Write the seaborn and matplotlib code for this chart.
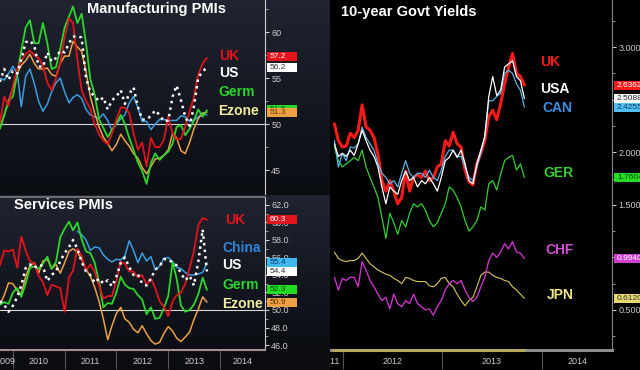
import numpy as np
import pandas as pd
import matplotlib
matplotlib.use("Agg")
import matplotlib.pyplot as plt
from matplotlib.patches import Rectangle
from matplotlib.transforms import blended_transform_factory
import seaborn as sns

# ---------------- data ----------------
pmi_dates = pd.date_range("2009-10-01", periods=49, freq="MS")

mfg_uk = [50.1, 53.0, 52.0, 54.2, 56.0, 56.9, 57.6, 58.0, 57.5, 57.2,
          56.4, 54.5, 53.7, 55.0, 56.6, 59.5, 61.5, 61.0, 57.0, 53.7,
          52.5, 51.7, 50.0, 48.9, 48.2, 47.8, 49.0, 50.5, 51.8, 51.8,
          51.2, 49.0, 47.2, 48.0, 45.4, 48.5, 47.5, 47.5, 48.3, 50.8,
          49.0, 48.3, 48.4, 49.7, 51.4, 52.9, 55.4, 56.6, 57.2]
mfg_us = [54.6, 56.0, 54.8, 55.8, 55.5, 57.0, 58.9, 59.1, 58.5, 56.3,
          56.2, 57.8, 56.8, 57.2, 58.0, 57.8, 58.8, 59.5, 59.6, 59.4,
          55.0, 53.5, 53.0, 52.5, 52.9, 51.6, 52.6, 53.0, 53.7, 52.2,
          53.3, 54.0, 51.9, 50.5, 50.5, 50.9, 51.5, 51.0, 50.3, 50.4,
          53.0, 54.2, 52.6, 50.8, 49.8, 51.9, 55.1, 55.7, 56.2]
mfg_germ = [49.5, 51.0, 52.5, 53.0, 55.5, 58.0, 60.5, 61.3, 58.8, 58.8,
            61.0, 58.8, 56.0, 56.2, 58.2, 60.5, 61.7, 62.8, 61.0, 62.0,
            58.8, 54.9, 53.2, 50.5, 49.6, 48.6, 49.4, 50.1, 51.0, 50.0,
            48.5, 47.2, 45.8, 44.9, 43.5, 45.8, 46.8, 46.1, 46.6, 47.0,
            47.9, 49.7, 49.9, 48.8, 49.5, 50.4, 51.6, 50.8, 51.5]
mfg_ezone = [49.5, 51.0, 52.5, 54.0, 55.5, 56.4, 56.9, 57.6, 56.6, 56.0,
             56.0, 56.1, 55.4, 55.2, 56.6, 57.4, 57.4, 59.0, 58.4, 57.9,
             55.7, 53.0, 51.2, 49.7, 48.6, 47.9, 47.1, 47.8, 48.9, 48.2,
             47.6, 46.8, 46.3, 45.3, 44.6, 45.4, 46.2, 46.3, 46.6, 47.2,
             49.0, 48.5, 47.1, 46.8, 48.0, 49.5, 50.6, 51.2, 51.3]
mfg_china = [55.0, 54.8, 55.5, 56.3, 55.5, 51.9, 55.2, 56.0, 54.4, 52.5,
             51.4, 52.2, 53.5, 54.5, 55.0, 53.5, 52.3, 52.9, 53.2, 52.8,
             51.6, 51.0, 50.8, 50.6, 51.1, 50.4, 49.3, 50.0, 50.6, 51.0,
             52.3, 53.0, 51.8, 50.3, 50.3, 49.4, 50.0, 50.5, 50.5, 50.4,
             50.4, 50.4, 50.9, 50.8, 50.3, 50.4, 50.8, 51.2, 51.0]

svc_uk = [55.1, 56.8, 56.7, 56.9, 54.8, 58.4, 56.8, 55.6, 55.3, 53.9,
          53.2, 51.7, 52.9, 52.7, 52.5, 49.8, 53.7, 54.5, 57.0, 56.2,
          54.5, 55.2, 54.4, 52.8, 51.3, 51.6, 51.6, 53.3, 55.5, 55.3,
          54.4, 54.4, 53.7, 54.0, 52.9, 53.6, 52.5, 51.0, 50.4, 49.3,
          51.0, 51.7, 52.0, 53.0, 54.8, 56.7, 59.7, 60.5, 60.3]
svc_china = [np.nan] * 18 + [
    59.0, 58.6, 58.0, 56.8, 57.2, 57.1, 56.3, 55.8, 55.5, 55.8,
    55.7, 56.2, 57.9, 56.8, 55.4, 56.5, 55.6, 56.1, 54.6, 55.0,
    55.9, 56.0, 55.5, 54.9, 54.7, 54.3, 54.0, 54.0, 54.1, 54.3, 55.4]
svc_us = [51.0, 50.6, 49.8, 50.5, 51.5, 52.8, 54.8, 55.2, 54.8, 55.2,
          55.0, 53.3, 54.0, 54.4, 55.6, 56.5, 57.2, 58.0, 57.0, 55.5,
          54.4, 54.0, 53.1, 53.6, 53.0, 53.4, 52.7, 53.8, 55.4, 56.0,
          54.9, 54.0, 54.1, 53.0, 52.8, 53.6, 54.6, 55.0, 55.8, 55.8,
          55.4, 55.1, 54.2, 53.4, 53.9, 52.8, 55.5, 59.2, 54.4]
svc_germ = [50.6, 50.9, 50.7, 52.0, 52.5, 51.5, 53.0, 54.8, 55.0, 54.7,
            55.3, 56.1, 54.7, 55.5, 58.3, 59.3, 60.1, 59.1, 60.0, 58.1,
            56.7, 56.5, 55.4, 53.2, 50.3, 50.8, 50.7, 52.0, 53.8, 52.9,
            52.5, 52.4, 51.7, 51.2, 49.5, 50.3, 49.0, 49.1, 50.2, 51.6,
            55.5, 53.6, 50.5, 49.8, 50.0, 50.6, 51.8, 53.7, 52.3]
svc_ezone = [50.6, 51.7, 53.1, 53.0, 52.2, 51.8, 53.8, 55.1, 55.4, 54.2,
             55.6, 55.8, 54.7, 55.2, 54.2, 55.4, 56.7, 57.0, 56.6, 55.8,
             54.6, 53.9, 52.6, 51.0, 49.0, 46.6, 48.2, 49.6, 50.3, 49.0,
             48.6, 47.8, 47.4, 48.2, 47.3, 46.5, 46.1, 46.3, 47.3, 48.1,
             47.6, 46.8, 46.4, 46.9, 47.5, 48.9, 50.1, 51.5, 50.9]

yld_dates = pd.date_range("2011-12-01", "2013-10-30", periods=49)

yld_uk = [2.27, 2.11, 2.05, 2.06, 2.18, 2.14, 2.21, 2.45, 2.24, 2.21,
          2.14, 1.98, 1.73, 1.63, 1.73, 1.63, 1.51, 1.57, 1.82, 1.63,
          1.76, 1.79, 1.76, 1.82, 1.73, 1.76, 1.86, 1.89, 2.11, 2.06,
          2.19, 2.08, 2.05, 1.83, 1.72, 1.69, 1.89, 1.99, 2.11, 2.34,
          2.40, 2.31, 2.46, 2.65, 2.81, 2.94, 2.75, 2.72, 2.64]
yld_usa = [2.08, 1.96, 1.99, 1.96, 2.02, 1.97, 2.08, 2.21, 2.11, 2.02,
           1.96, 1.86, 1.67, 1.51, 1.67, 1.63, 1.60, 1.73, 1.82, 1.73,
           1.76, 1.67, 1.73, 1.70, 1.76, 1.70, 1.63, 1.76, 1.92, 1.95,
           2.02, 1.95, 2.02, 1.89, 1.73, 1.70, 1.89, 2.02, 2.15, 2.53,
           2.72, 2.54, 2.59, 2.81, 2.84, 2.87, 2.72, 2.68, 2.51]
yld_can = [2.11, 1.86, 1.99, 1.92, 2.05, 2.04, 2.08, 2.24, 2.14, 2.08,
           2.02, 1.89, 1.80, 1.76, 1.70, 1.73, 1.67, 1.80, 1.92, 1.80,
           1.76, 1.80, 1.80, 1.76, 1.83, 1.76, 1.73, 1.83, 1.96, 2.02,
           2.02, 1.96, 1.96, 1.86, 1.76, 1.73, 1.86, 1.99, 2.15, 2.49,
           2.49, 2.53, 2.56, 2.75, 2.78, 2.75, 2.65, 2.59, 2.43]
yld_ger = [2.05, 1.92, 1.86, 1.89, 1.92, 1.95, 1.92, 2.02, 1.86, 1.76,
           1.67, 1.57, 1.38, 1.18, 1.42, 1.33, 1.22, 1.35, 1.29, 1.42,
           1.51, 1.48, 1.51, 1.45, 1.35, 1.29, 1.33, 1.42, 1.51, 1.67,
           1.64, 1.57, 1.48, 1.35, 1.25, 1.29, 1.35, 1.48, 1.45, 1.70,
           1.73, 1.64, 1.79, 1.92, 1.95, 1.97, 1.83, 1.89, 1.76]
yld_chf = [0.81, 0.69, 0.80, 0.78, 0.81, 0.81, 0.72, 0.96, 0.88, 0.78,
           0.72, 0.65, 0.59, 0.62, 0.51, 0.65, 0.56, 0.53, 0.59, 0.56,
           0.65, 0.56, 0.53, 0.50, 0.51, 0.45, 0.53, 0.59, 0.69, 0.75,
           0.78, 0.75, 0.78, 0.69, 0.62, 0.58, 0.62, 0.72, 0.81, 0.97,
           1.04, 1.00, 1.05, 1.13, 1.08, 1.15, 1.05, 1.04, 0.99]
yld_jpn = [1.05, 0.99, 0.97, 0.96, 0.97, 0.97, 0.99, 1.04, 0.99, 0.94,
           0.91, 0.88, 0.86, 0.84, 0.83, 0.80, 0.78, 0.75, 0.81, 0.80,
           0.78, 0.77, 0.77, 0.77, 0.73, 0.72, 0.75, 0.80, 0.81, 0.75,
           0.72, 0.65, 0.59, 0.54, 0.59, 0.62, 0.72, 0.83, 0.86, 0.86,
           0.83, 0.81, 0.80, 0.78, 0.77, 0.72, 0.69, 0.65, 0.61]

# last-value tags shown on the axes
mfg_tag_vals = [57.4, 56.2, 51.6, 51.3]
mfg_tag_text = ["57.2", "56.2", "51.5", "51.3"]
svc_tag_vals = [60.3, 55.4, 54.4, 52.3, 50.9]
svc_tag_text = ["60.3", "55.4", "54.4", "52.3", "50.9"]
yld_tag_vals = [2.6362, 2.5088, 2.4255, 1.7604, 0.9940, 0.6120]
yld_tag_text = ["2.6362", "2.5088", "2.4255", "1.7604", "0.9940", "0.6120"]

# ---------------- style ----------------
sns.set_style("ticks")
plt.rcParams["font.family"] = ["Liberation Sans", "DejaVu Sans"]

RED, WHITE, GREEN, ORANGE, BLUE = "#e3131b", "#ffffff", "#2bd62b", "#eea044", "#3a9ee0"
PALE = "#f2eaa0"
W, H = 640, 370


def box(x0, y0, x1, y1):
    # pixel box (top-left origin) -> figure fraction
    return [x0 / W, 1 - y1 / H, (x1 - x0) / W, (y1 - y0) / H]


def yr(f):
    y = int(f)
    return pd.Timestamp(year=y, month=1, day=1) + pd.Timedelta(days=(f - y) * 365.25)


def tag(ax, val, txt, fc, tc, ax_w, ax_h, z, w=30, h=9):
    # later tags sit on top of earlier ones, text included
    lo, hi = ax.get_ylim()
    unit = (hi - lo) / ax_h
    tr = blended_transform_factory(ax.transAxes, ax.transData)
    x0 = 1 + 2 / ax_w
    ax.add_patch(Rectangle((x0, val - h / 2 * unit), w / ax_w, h * unit, transform=tr,
                           fc=fc, ec="none", clip_on=False, zorder=6 + 2 * z))
    ax.text(x0 + 3 / ax_w, val, txt, transform=tr, color=tc, fontsize=6,
            va="center", ha="left", clip_on=False, zorder=7 + 2 * z)


def label(x, y, s, color, size=10):
    fig.text(x / W, 1 - y / H, s, color=color, fontsize=size, fontweight="bold",
             va="center", ha="left", zorder=40)


def style_axis(ax, spine_color):
    ax.set_facecolor("none")
    for s in ["left", "top", "bottom"]:
        ax.spines[s].set_visible(False)
    ax.spines["right"].set_color(spine_color)
    ax.spines["right"].set_linewidth(0.8)
    ax.yaxis.tick_right()
    ax.tick_params(axis="y", which="major", direction="out", length=3, width=0.8,
                   color="#cccccc", labelcolor="#cccccc", labelsize=6.5, pad=1.5)
    ax.tick_params(axis="y", which="minor", direction="out", length=2, width=0.6, color="#aaaaaa")
    ax.set_xlabel("")
    ax.set_ylabel("")


def year_axis(ax, starts, centers, names):
    ax.set_xticks(starts)
    ax.set_xticklabels([""] * len(starts))
    ax.set_xticks(centers, minor=True)
    ax.set_xticklabels(names, minor=True)
    ax.tick_params(axis="x", which="major", direction="out", length=14, width=0.8, color="#555555")
    ax.tick_params(axis="x", which="minor", length=0, labelsize=6.5, labelcolor="#cccccc", pad=5)


fig = plt.figure(figsize=(6.4, 3.7), dpi=100, facecolor="black")

# dark gradient background behind the two PMI panels
rows = np.zeros((H, 1, 3))
top_c, bot_c = np.array([31, 36, 48]) / 255, np.array([11, 13, 19]) / 255
for y in range(H):
    if y < 195:
        t = y / 195
    elif y < 350:
        t = (y - 195) / 155
    else:
        t = 1.0
    rows[y, 0] = top_c * (1 - t) + bot_c * t
bg = fig.add_axes(box(0, 0, 330, 370), zorder=1)
bg.imshow(rows, aspect="auto", extent=[0, 1, 0, 1], interpolation="bilinear")
bg.axis("off")

# ---------------- Manufacturing PMIs ----------------
ax_m = fig.add_axes(box(0, 0, 265, 194), zorder=3)
ax_m.axhline(50, color="#d8d8d8", lw=0.8, zorder=1)
sns.lineplot(x=pmi_dates, y=mfg_china, ax=ax_m, color=BLUE, linewidth=1.1)
sns.lineplot(x=pmi_dates, y=mfg_ezone, ax=ax_m, color=ORANGE, linewidth=1.1)
sns.lineplot(x=pmi_dates, y=mfg_germ, ax=ax_m, color=GREEN, linewidth=1.3)
sns.lineplot(x=pmi_dates, y=mfg_uk, ax=ax_m, color=RED, linewidth=1.3)
sns.lineplot(x=pmi_dates, y=mfg_us, ax=ax_m, color=WHITE, linewidth=1.8, linestyle=":")
ax_m.set_xlim(yr(2009.75), yr(2014.87))
ax_m.set_ylim(42.4, 63.5)
style_axis(ax_m, "#cccccc")
ax_m.set_xticks([])
ax_m.set_yticks([45, 50, 55, 60])
ax_m.set_yticklabels(["45", "50", "55", "60"])
ax_m.set_yticks([47.5, 52.5, 57.5, 62.5], minor=True)
for i, (v, t, fc, tc) in enumerate(zip(mfg_tag_vals, mfg_tag_text,
                                       [RED, WHITE, GREEN, ORANGE],
                                       ["white", "#333333", "#1a5a1a", "#6a3a00"])):
    tag(ax_m, v, t, fc, tc, 265, 194, i)

# ---------------- Services PMIs ----------------
ax_s = fig.add_axes(box(0, 197, 265, 350), zorder=3)
ax_s.axhline(50, color="#d8d8d8", lw=0.8, zorder=1)
sns.lineplot(x=pmi_dates, y=svc_ezone, ax=ax_s, color=ORANGE, linewidth=1.1)
sns.lineplot(x=pmi_dates, y=svc_china, ax=ax_s, color=BLUE, linewidth=1.1)
sns.lineplot(x=pmi_dates, y=svc_germ, ax=ax_s, color=GREEN, linewidth=1.3)
sns.lineplot(x=pmi_dates, y=svc_uk, ax=ax_s, color=RED, linewidth=1.3)
sns.lineplot(x=pmi_dates, y=svc_us, ax=ax_s, color=WHITE, linewidth=1.8, linestyle=":")
ax_s.set_xlim(yr(2009.75), yr(2014.87))
ax_s.set_ylim(45.43, 62.91)
style_axis(ax_s, "#cccccc")
ax_s.spines["top"].set_visible(True)
ax_s.spines["top"].set_color("#7a7a7a")
ax_s.spines["top"].set_linewidth(1.2)
ax_s.spines["bottom"].set_visible(True)
ax_s.spines["bottom"].set_color("#a89090")
ax_s.spines["bottom"].set_linewidth(1.5)
svc_ticks = np.arange(46, 63, 2)
ax_s.set_yticks(svc_ticks)
ax_s.set_yticklabels([f"{v:.1f}" for v in svc_ticks])
ax_s.set_yticks(np.arange(47, 63, 2), minor=True)
year_axis(ax_s,
          [yr(y) for y in [2010, 2011, 2012, 2013, 2014]],
          [yr(2009.85), yr(2010.5), yr(2011.5), yr(2012.5), yr(2013.5), yr(2014.43)],
          ["2009", "2010", "2011", "2012", "2013", "2014"])
for i, (v, t, fc, tc) in enumerate(zip(svc_tag_vals, svc_tag_text,
                                       [RED, "#3fb8f0", WHITE, "#22dd22", ORANGE],
                                       ["white", "#0a3a6a", "#333333", "#0a4a0a", "#5a3000"])):
    tag(ax_s, v, t, fc, tc, 265, 153, i)

# ---------------- 10-year Govt Yields ----------------
ax_r = fig.add_axes(box(330, 0, 612, 350), zorder=0)
sns.lineplot(x=yld_dates, y=yld_jpn, ax=ax_r, color="#d6c65a", linewidth=0.8)
sns.lineplot(x=yld_dates, y=yld_chf, ax=ax_r, color="#c832c8", linewidth=1.0)
sns.lineplot(x=yld_dates, y=yld_ger, ax=ax_r, color="#30d030", linewidth=0.9)
sns.lineplot(x=yld_dates, y=yld_uk, ax=ax_r, color="#ff1a1a", linewidth=2.2)
sns.lineplot(x=yld_dates, y=yld_can, ax=ax_r, color="#5ab4e6", linewidth=0.9)
sns.lineplot(x=yld_dates, y=yld_usa, ax=ax_r, color=WHITE, linewidth=0.9)
ax_r.set_xlim(yr(2011.90), yr(2014.71))
ax_r.set_ylim(0.119, 3.448)
style_axis(ax_r, "#888888")
ax_r.set_facecolor("black")
ax_r.spines["bottom"].set_visible(True)
ax_r.spines["bottom"].set_color("#8a8a8a")
ax_r.spines["bottom"].set_linewidth(2.2)
ax_r.plot([yr(2011.90), yld_dates[-1]], [0.119, 0.119], color="#b5a860", lw=2.2,
          clip_on=False, zorder=4)
r_ticks = np.arange(0.5, 3.01, 0.5)
ax_r.set_yticks(r_ticks)
ax_r.set_yticklabels([f"{v:.4f}" for v in r_ticks])
ax_r.set_yticks(np.arange(0.25, 3.3, 0.5), minor=True)
year_axis(ax_r,
          [yr(y) for y in [2012, 2013, 2014]],
          [yr(2011.87), yr(2012.5), yr(2013.5), yr(2014.36)],
          ["2011", "2012", "2013", "2014"])
for i, (v, t, fc, tc) in enumerate(zip(yld_tag_vals, yld_tag_text,
                                       ["#ff1a1a", WHITE, "#4fc0f0", "#22dd22", "#d040d0", "#e8d870"],
                                       ["white", "#222222", "#0a3a6a", "#0a4a0a", "white", "#333333"])):
    tag(ax_r, v, t, fc, tc, 282, 350, i, w=32)

# ---------------- titles and series names ----------------
label(87, 9, "Manufacturing PMIs", WHITE, 10.5)
label(14, 205, "Services PMIs", WHITE, 10.5)
label(341, 12, "10-year Govt Yields", WHITE, 10.5)

label(219, 56, "UK", RED)
label(219, 73, "US", WHITE)
label(218, 92, "Germ", GREEN)
label(218, 111, "Ezone", PALE)

label(225, 220, "UK", RED)
label(222, 248, "China", "#2f86d8")
label(222, 265, "US", WHITE)
label(222, 285, "Germ", GREEN)
label(222, 304, "Ezone", PALE)

label(540, 62, "UK", "#ff1a1a")
label(540, 89, "USA", WHITE)
label(542, 108, "CAN", "#3c8ee0")
label(543, 173, "GER", "#30d030")
label(545, 250, "CHF", "#d34fd3")
label(547, 295, "JPN", "#f0e68c")

fig.savefig("out.png", dpi=100, facecolor="black")
